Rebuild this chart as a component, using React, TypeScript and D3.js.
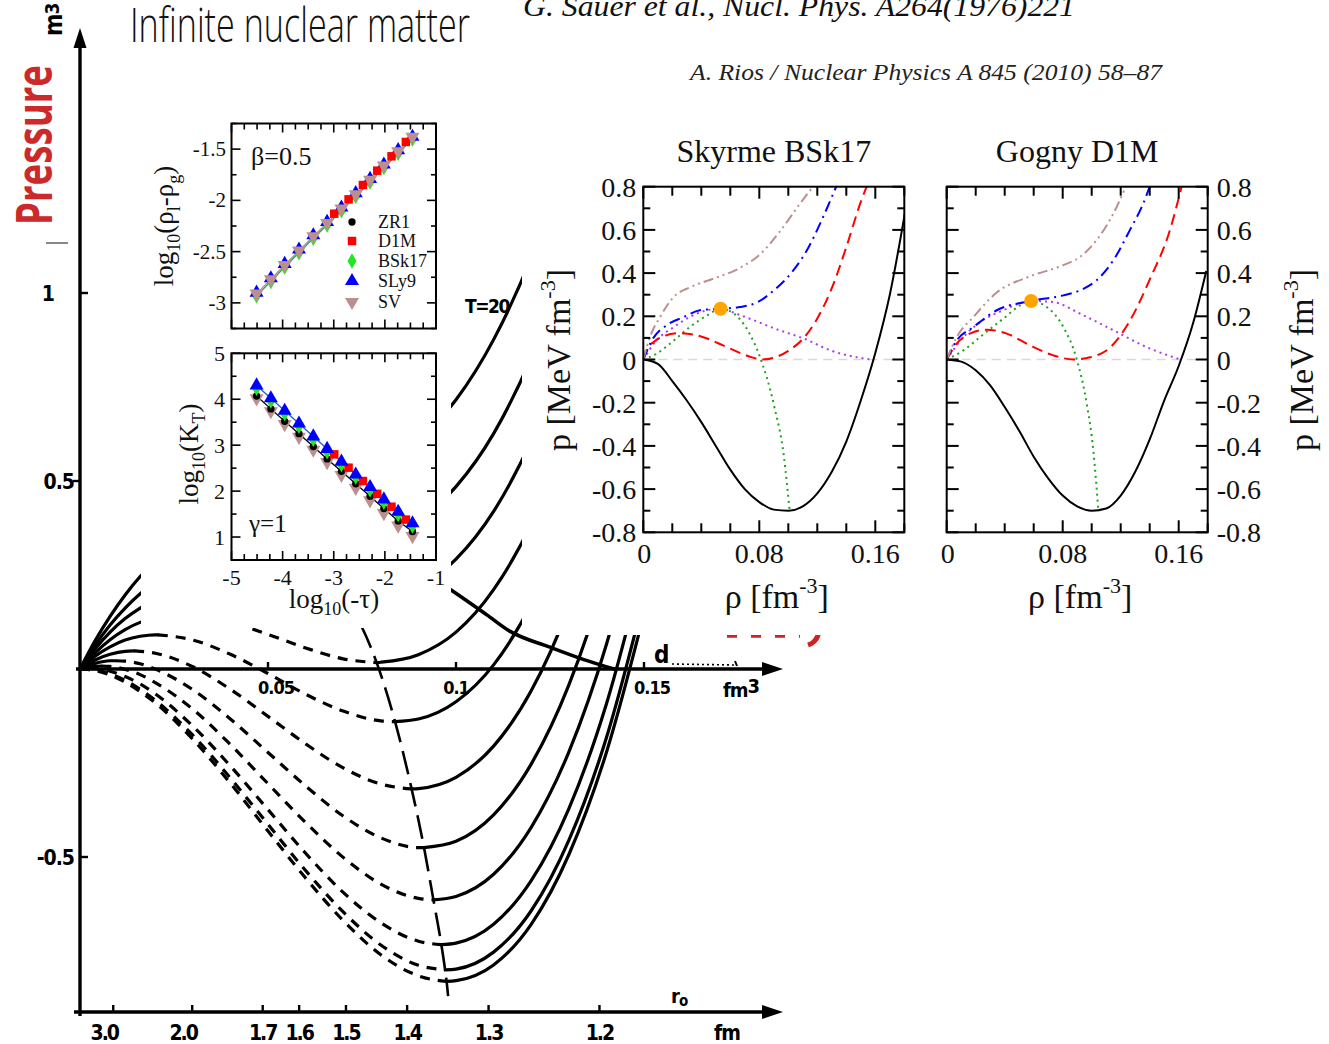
import React from 'react';
import * as d3 from 'd3';

const SERIF = "'Liberation Serif', 'Times New Roman', serif";
const NARROW = "'Liberation Sans Narrow', 'DejaVu Sans Condensed', 'Liberation Sans', sans-serif";
const SANS = "'Open Sans', 'Noto Sans', sans-serif";

/* ---------- Sauer et al. (1976): isotherms P(rho) of hot nuclear matter ---------- */
// density grid [fm^-3] shared by the isotherms
const isoDensity = [0, 0.004, 0.008, 0.012, 0.016, 0.02, 0.03, 0.04, 0.05, 0.06, 0.07, 0.08, 0.09, 0.1, 0.11, 0.12, 0.13, 0.14, 0.15];
// pressure [MeV fm^-3] along each isotherm, hottest first
const isoT20 = [0, 0.075, 0.14, 0.197, 0.246, 0.287, 0.364, 0.411, 0.441, 0.464, 0.492, 0.536, 0.607, 0.716, 0.876, 1.095, 1.387];
const isoT17 = [0, 0.063, 0.117, 0.162, 0.2, 0.231, 0.281, 0.304, 0.31, 0.311, 0.318, 0.341, 0.393, 0.485, 0.626, 0.829, 1.105];
const isoT14 = [0, 0.053, 0.098, 0.134, 0.162, 0.184, 0.212, 0.215, 0.201, 0.183, 0.173, 0.18, 0.216, 0.292, 0.419, 0.608, 0.87];
const isoT12 = [0, 0.043, 0.078, 0.105, 0.124, 0.136, 0.144, 0.125, 0.092, 0.056, 0.027, 0.018, 0.038, 0.098, 0.211, 0.386, 0.635];
const isoT10 = [0, 0.034, 0.059, 0.077, 0.087, 0.091, 0.077, 0.039, -0.012, -0.067, -0.112, -0.138, -0.133, -0.087, 0.011, 0.173, 0.409, 0.73];
const isoT7 = [0, 0.024, 0.039, 0.047, 0.047, 0.042, 0.006, -0.054, -0.126, -0.199, -0.263, -0.306, -0.318, -0.288, -0.205, -0.058, 0.164, 0.472];
const isoT5 = [0, 0.015, 0.022, 0.021, 0.014, 0, -0.055, -0.133, -0.222, -0.311, -0.391, -0.449, -0.475, -0.458, -0.388, -0.253, -0.043, 0.254, 0.647];
const isoT3 = [0, 0.007, 0.007, -0.001, -0.015, -0.036, -0.107, -0.201, -0.305, -0.408, -0.501, -0.572, -0.61, -0.605, -0.546, -0.421, -0.221, 0.065, 0.449];
const isoT1 = [0, 0.001, -0.006, -0.02, -0.04, -0.066, -0.152, -0.258, -0.374, -0.49, -0.594, -0.675, -0.724, -0.729, -0.679, -0.563, -0.372, -0.093, 0.283];
const isoT05 = [0, -0.003, -0.013, -0.03, -0.054, -0.083, -0.176, -0.29, -0.413, -0.536, -0.646, -0.734, -0.788, -0.798, -0.753, -0.643, -0.456, -0.183, 0.189];
const isoT0 = [0, -0.004, -0.016, -0.035, -0.06, -0.09, -0.187, -0.304, -0.431, -0.556, -0.669, -0.76, -0.816, -0.829, -0.787, -0.679, -0.494, -0.222, 0.147];
const isoCurves = [isoT20, isoT17, isoT14, isoT12, isoT10, isoT7, isoT5, isoT3, isoT1, isoT05, isoT0];
// local maximum and minimum of each isotherm (unstable branch between them); null: supercritical
const spinMaxRho = [null, null, 0.0358, 0.0272, 0.0207, 0.0144, 0.0096, 0.0057, 0.0025, 0, 0];
const spinMaxP = [null, null, 0.216, 0.1445, 0.091, 0.048, 0.022, 0.008, 0.0016, 0, 0];
const spinMinRho = [null, null, 0.0718, 0.0789, 0.0838, 0.0882, 0.0915, 0.094, 0.0961, 0.0971, 0.0975];
const spinMinP = [null, null, 0.172, 0.017, -0.14, -0.319, -0.475, -0.614, -0.733, -0.8, -0.831];
// spinodal line through the minima
const spinodalRho = [0.058, 0.0718, 0.0789, 0.0838, 0.0882, 0.0915, 0.094, 0.0961, 0.0971, 0.0975, 0.0979];
const spinodalP = [0.311, 0.172, 0.017, -0.14, -0.319, -0.475, -0.614, -0.733, -0.8, -0.831, -0.87];
// heavy boundary line ending on the density axis
const ridgeRho = [0.088, 0.0987, 0.1082, 0.1144, 0.125, 0.134, 0.142];
const ridgeP = [0.28, 0.21, 0.144, 0.1, 0.058, 0.025, 0];
// axis labels of the old figure
const oldDensityTicks = [0.05, 0.1, 0.15];
const oldDensityLabels = ['0.05', '0.1', '0.15'];
const oldPressureTicks = [1, 0.5, -0.5];
const oldPressureLabels = ['1', '0.5', '-0.5'];
const r0Ticks = [3.0, 2.0, 1.7, 1.6, 1.5, 1.4, 1.3, 1.2];
const r0Labels = ['3.0', '2.0', '1.7', '1.6', '1.5', '1.4', '1.3', '1.2'];

/* ---------- A. Rios (2010), inset: critical scaling ---------- */
const tauX = [-4.51, -4.23, -3.96, -3.68, -3.4, -3.13, -2.85, -2.57, -2.29, -2.02, -1.74, -1.46];
const tauXD1M = [-2.99, -2.71, -2.43, -2.15, -1.87, -1.59];
const betaZR1 = [-2.92, -2.78, -2.64, -2.5, -2.36, -2.23, -2.09, -1.95, -1.81, -1.67, -1.53, -1.39];
const betaBSk17 = [-2.93, -2.79, -2.65, -2.51, -2.37, -2.24, -2.1, -1.96, -1.82, -1.68, -1.54, -1.4];
const betaSLy9 = [-2.9, -2.76, -2.62, -2.48, -2.34, -2.21, -2.07, -1.93, -1.79, -1.65, -1.51, -1.38];
const betaSV = [-2.91, -2.77, -2.63, -2.49, -2.35, -2.22, -2.08, -1.94, -1.8, -1.66, -1.52, -1.38];
const betaD1M = [-2.13, -1.99, -1.85, -1.71, -1.57, -1.43];
const gammaSLy9 = [4.3, 4.02, 3.75, 3.47, 3.19, 2.92, 2.64, 2.36, 2.09, 1.82, 1.55, 1.3];
const gammaBSk17 = [4.24, 3.96, 3.69, 3.41, 3.13, 2.86, 2.58, 2.31, 2.03, 1.76, 1.49, 1.24];
const gammaZR1 = [4.07, 3.79, 3.52, 3.25, 2.97, 2.7, 2.43, 2.16, 1.89, 1.62, 1.35, 1.12];
const gammaSV = [4.02, 3.74, 3.46, 3.18, 2.9, 2.63, 2.35, 2.07, 1.8, 1.52, 1.25, 1.02];
const gammaD1M = [2.8, 2.51, 2.22, 1.94, 1.66, 1.38];
const betaTicks = [-3, -2.5, -2, -1.5];
const gammaTicks = [1, 2, 3, 4, 5];
const tauTicks = [-5, -4, -3, -2, -1];
const legendNames = ['ZR1', 'D1M', 'BSk17', 'SLy9', 'SV'];

/* ---------- A. Rios (2010): p(rho) at the spinodal / coexistence ---------- */
const bskBlackRho = [0, 0.01, 0.02, 0.03, 0.04, 0.05, 0.06, 0.07, 0.08, 0.09, 0.1, 0.11, 0.12, 0.13, 0.14, 0.15, 0.16, 0.17, 0.181];
const bskBlackP = [0, -0.02, -0.1, -0.19, -0.29, -0.4, -0.51, -0.6, -0.66, -0.695, -0.7, -0.68, -0.62, -0.52, -0.38, -0.19, 0.03, 0.3, 0.7];
const bskRedRho = [0, 0.003, 0.008, 0.015, 0.025, 0.035, 0.045, 0.055, 0.065, 0.075, 0.082, 0.09, 0.1, 0.11, 0.12, 0.13, 0.14, 0.15, 0.154];
const bskRedP = [0, 0.05, 0.085, 0.11, 0.122, 0.115, 0.095, 0.065, 0.035, 0.01, 0, 0.008, 0.04, 0.095, 0.19, 0.33, 0.52, 0.73, 0.8];
const bskBlueRho = [0, 0.007, 0.016, 0.028, 0.039, 0.0533, 0.067, 0.079, 0.09, 0.102, 0.114, 0.123, 0.133];
const bskBlueP = [0, 0.1, 0.158, 0.197, 0.228, 0.235, 0.243, 0.266, 0.32, 0.4, 0.52, 0.645, 0.8];
const bskBrownRho = [0, 0.0046, 0.0116, 0.021, 0.0325, 0.0487, 0.067, 0.081, 0.095, 0.109, 0.117];
const bskBrownP = [0, 0.104, 0.197, 0.29, 0.335, 0.375, 0.425, 0.49, 0.6, 0.73, 0.8];
const bskPurpleRho = [0, 0.009, 0.021, 0.032, 0.044, 0.0533, 0.065, 0.0765, 0.09, 0.111, 0.13, 0.1565];
const bskPurpleP = [0, 0.088, 0.15, 0.197, 0.228, 0.235, 0.21, 0.181, 0.145, 0.096, 0.04, 0];
const bskGreenRho = [0, 0.009, 0.021, 0.032, 0.044, 0.0533, 0.0626, 0.072, 0.08, 0.0904, 0.097, 0.1009];
const bskGreenP = [0, 0.026, 0.088, 0.15, 0.204, 0.235, 0.212, 0.135, 0.02, -0.22, -0.45, -0.7];
const bskCritical = [0.0533, 0.235];

const gogBlackRho = [0, 0.01, 0.02, 0.03, 0.04, 0.05, 0.06, 0.07, 0.08, 0.09, 0.1, 0.11, 0.12, 0.13, 0.14, 0.15, 0.16, 0.17, 0.179];
const gogBlackP = [0, -0.01, -0.05, -0.12, -0.22, -0.33, -0.45, -0.55, -0.63, -0.68, -0.7, -0.69, -0.63, -0.52, -0.37, -0.19, -0.03, 0.17, 0.41];
const gogRedRho = [0, 0.0069, 0.016, 0.0276, 0.0414, 0.0575, 0.0736, 0.0874, 0.0989, 0.113, 0.1264, 0.14, 0.154, 0.162];
const gogRedP = [0, 0.073, 0.12, 0.138, 0.12, 0.065, 0.019, 0, 0.01, 0.057, 0.18, 0.37, 0.6, 0.8];
const gogBlueRho = [0, 0.0069, 0.0184, 0.0345, 0.0582, 0.0805, 0.092, 0.1034, 0.115, 0.1264, 0.1356, 0.14];
const gogBlueP = [0, 0.088, 0.15, 0.228, 0.271, 0.297, 0.32, 0.367, 0.46, 0.6, 0.723, 0.8];
const gogBrownRho = [0, 0.0069, 0.0184, 0.0345, 0.0575, 0.0805, 0.092, 0.1034, 0.115, 0.1235];
const gogBrownP = [0, 0.104, 0.197, 0.31, 0.385, 0.437, 0.475, 0.553, 0.676, 0.8];
const gogPurpleRho = [0, 0.0115, 0.023, 0.039, 0.0582, 0.0736, 0.092, 0.115, 0.138, 0.161];
const gogPurpleP = [0, 0.104, 0.173, 0.228, 0.271, 0.266, 0.212, 0.135, 0.057, 0];
const gogGreenRho = [0, 0.0115, 0.023, 0.039, 0.0506, 0.0582, 0.069, 0.0805, 0.0897, 0.0966, 0.1011, 0.1046];
const gogGreenP = [0, 0.042, 0.104, 0.189, 0.25, 0.271, 0.243, 0.15, 0, -0.206, -0.42, -0.7];
const gogCritical = [0.0582, 0.271];

const pTicks = [0.8, 0.6, 0.4, 0.2, 0, -0.2, -0.4, -0.6, -0.8];
const pTickLabels = ['0.8', '0.6', '0.4', '0.2', '0', '-0.2', '-0.4', '-0.6', '-0.8'];
const rhoTicks = [0, 0.08, 0.16];
const rhoTickLabels = ['0', '0.08', '0.16'];

type Pt = [number, number];
const zip = (a: number[], b: number[]): Pt[] => a.map((v, i) => [v, b[i]] as Pt);

type Series = { rho: number[]; p: number[]; color: string; dash?: string; width?: number };

function RiosPanel({ left, title, series, crit, zeroEnd, axisRight, clipId }: {
  left: number; title: string; series: Series[]; crit: number[]; zeroEnd: number; axisRight: boolean; clipId: string;
}) {
  const x = d3.scaleLinear().domain([0, 0.18]).range([left, left + 261]);
  const y = d3.scaleLinear().domain([-0.8, 0.8]).range([532.3, 186.7]);
  const line = d3.line<Pt>().x(d => x(d[0])).y(d => y(d[1])).curve(d3.curveMonotoneX);
  const x0 = x.range()[0], x1 = x.range()[1];
  const y0 = y.range()[1], y1 = y.range()[0];
  const yMinor = d3.range(-8, 9).map(i => i / 10);
  const xMinor = d3.range(0, 10).map(i => i * 0.02);
  const labX = axisRight ? 1313 : 570;
  return (
    <g fontFamily={SERIF} fill="#111">
      <defs>
        <clipPath id={clipId}><rect x={x0} y={y0} width={x1 - x0} height={y1 - y0} /></clipPath>
      </defs>
      <text x={(x0 + x1) / 2} y={162} textAnchor="middle" fontSize={32}>{title}</text>
      <g clipPath={`url(#${clipId})`}>
        <line x1={x(0)} x2={x(zeroEnd)} y1={y(0)} y2={y(0)} stroke="#d9d9d9" strokeWidth={1.6} strokeDasharray="9 6" />
        {series.map((s, i) => (
          <path key={i} d={line(zip(s.rho, s.p)) || ''} fill="none" stroke={s.color}
            strokeWidth={s.width ?? 2} strokeDasharray={s.dash} />
        ))}
        <circle cx={x(crit[0])} cy={y(crit[1])} r={7} fill="#ffa500" />
      </g>
      <rect x={x0} y={y0} width={x1 - x0} height={y1 - y0} fill="none" stroke="#000" strokeWidth={2} />
      {yMinor.map((v, i) => {
        const len = i % 2 === 0 ? 12 : 7;
        return (
          <g key={'yt' + i} stroke="#000" strokeWidth={2}>
            <line x1={x0} x2={x0 + len} y1={y(v)} y2={y(v)} />
            <line x1={x1} x2={x1 - len} y1={y(v)} y2={y(v)} />
          </g>
        );
      })}
      {xMinor.map((v, i) => {
        const len = i % 4 === 0 ? 12 : 9;
        return (
          <g key={'xt' + i} stroke="#000" strokeWidth={2}>
            <line x1={x(v)} x2={x(v)} y1={y1} y2={y1 - len} />
            <line x1={x(v)} x2={x(v)} y1={y0} y2={y0 + len} />
          </g>
        );
      })}
      {pTicks.map((v, i) => (
        <text key={'pl' + i} x={axisRight ? x1 + 9 : x0 - 7} y={y(v) + 10}
          textAnchor={axisRight ? 'start' : 'end'} fontSize={28}>{pTickLabels[i]}</text>
      ))}
      {rhoTicks.map((v, i) => (
        <text key={'rl' + i} x={x(v) + (i === 0 ? 1 : 0)} y={563} textAnchor="middle" fontSize={28}>{rhoTickLabels[i]}</text>
      ))}
      <text x={(x0 + x1) / 2 + 3} y={608} textAnchor="middle" fontSize={34}>
        ρ [fm<tspan fontSize={22} dy={-15}>-3</tspan><tspan dy={15}>]</tspan>
      </text>
      <text transform={`translate(${labX},360) rotate(-90)`} textAnchor="middle" fontSize={34}>
        p [MeV fm<tspan fontSize={22} dy={-15}>-3</tspan><tspan dy={15}>]</tspan>
      </text>
    </g>
  );
}

export default function App() {
  const W = 1329, H = 1044;

  /* old figure */
  const oldX = d3.scaleLinear().domain([0, 0.15]).range([80, 644]);
  const oldY = d3.scaleLinear().domain([-0.5, 1]).range([857, 293]);
  const oldLine = d3.line<Pt>().x(d => oldX(d[0])).y(d => oldY(d[1])).curve(d3.curveMonotoneX);
  const rhoOfR0 = (r: number) => 3 / (4 * Math.PI * r * r * r);

  const isoPaths = isoCurves.map((p, k) => {
    const pts: Pt[] = p.map((v, i) => [isoDensity[i], v] as Pt);
    const mx = spinMaxRho[k], mn = spinMinRho[k];
    if (mx === null || mn === null) return { solid: [oldLine(pts) || ''], dashed: [] as string[] };
    const a: Pt = [mx, spinMaxP[k] as number];
    const b: Pt = [mn, spinMinP[k] as number];
    const leftPart: Pt[] = [...pts.filter(d => d[0] < mx - 1e-4), a];
    const mid: Pt[] = [a, ...pts.filter(d => d[0] > mx + 1e-4 && d[0] < mn - 1e-4), b];
    const rightPart: Pt[] = [b, ...pts.filter(d => d[0] > mn + 1e-4)];
    return {
      solid: [leftPart, rightPart].filter(s => s.length > 1).map(s => oldLine(s) || ''),
      dashed: [oldLine(mid) || ''],
    };
  });

  /* inset */
  const insX = d3.scaleLinear().domain([-5, -1]).range([231.5, 436]);
  const betaY = d3.scaleLinear().domain([-3.25, -1.25]).range([328.5, 123.5]);
  const gammaY = d3.scaleLinear().domain([0.5, 5]).range([560, 353.3]);
  const sym = (t: d3.SymbolType, s: number) => d3.symbol().type(t).size(s)() || '';
  const markers: Record<string, { d: string; fill: string; rot?: number }> = {
    ZR1: { d: sym(d3.symbolCircle, 42), fill: '#000' },
    D1M: { d: sym(d3.symbolSquare, 72), fill: '#ff0000' },
    BSk17: { d: sym(d3.symbolDiamond, 70), fill: '#22e622' },
    SLy9: { d: sym(d3.symbolTriangle, 85), fill: '#0000ff' },
    SV: { d: sym(d3.symbolTriangle, 85), fill: '#bc8f8f', rot: 180 },
  };
  const mark = (name: string, cx: number, cy: number, key: string) => {
    const m = markers[name];
    return <path key={key} d={m.d} fill={m.fill} transform={`translate(${cx},${cy})${m.rot ? ` rotate(${m.rot})` : ''}`} />;
  };
  const insLine = (ys: number[], yS: d3.ScaleLinear<number, number>) =>
    d3.line<Pt>().x(d => insX(d[0])).y(d => yS(d[1]))(zip(tauX, ys)) || '';

  const betaSeries: [string, number[], number[]][] = [
    ['ZR1', tauX, betaZR1], ['BSk17', tauX, betaBSk17], ['SLy9', tauX, betaSLy9], ['D1M', tauXD1M, betaD1M], ['SV', tauX, betaSV],
  ];
  const gammaSeries: [string, number[], number[]][] = [
    ['SV', tauX, gammaSV], ['ZR1', tauX, gammaZR1], ['BSk17', tauX, gammaBSk17], ['D1M', tauXD1M, gammaD1M], ['SLy9', tauX, gammaSLy9],
  ];

  const insetFrame = (yS: d3.ScaleLinear<number, number>, yStep: number, isMajor: (v: number) => boolean) => {
    const [xa, xb] = insX.range();
    const [ya, yb] = yS.range(); // bottom, top
    const d0 = yS.domain();
    const yv = d3.range(Math.round(d0[0] / yStep), Math.round(d0[1] / yStep) + 1).map(i => i * yStep);
    const xv = d3.range(-20, -3).map(i => i / 4);
    return (
      <g stroke="#000" strokeWidth={1.6}>
        <rect x={xa} y={yb} width={xb - xa} height={ya - yb} fill="none" strokeWidth={2} />
        {yv.map((v, i) => {
          const len = isMajor(v) ? 9 : 5;
          return <g key={'y' + i}><line x1={xa} x2={xa + len} y1={yS(v)} y2={yS(v)} /><line x1={xb} x2={xb - len} y1={yS(v)} y2={yS(v)} /></g>;
        })}
        {xv.map((v, i) => {
          const len = Number.isInteger(v) ? 9 : 6;
          return <g key={'x' + i}><line x1={insX(v)} x2={insX(v)} y1={ya} y2={ya - len} /><line x1={insX(v)} x2={insX(v)} y1={yb} y2={yb + len} /></g>;
        })}
      </g>
    );
  };

  const bskSeries: Series[] = [
    { rho: bskBlackRho, p: bskBlackP, color: '#000', width: 2 },
    { rho: bskPurpleRho, p: bskPurpleP, color: '#a63cf0', dash: '2 4' },
    { rho: bskGreenRho, p: bskGreenP, color: '#1fa21f', dash: '2 4' },
    { rho: bskRedRho, p: bskRedP, color: '#ff0000', dash: '11 6' },
    { rho: bskBlueRho, p: bskBlueP, color: '#0000ff', dash: '11 5 2 5' },
    { rho: bskBrownRho, p: bskBrownP, color: '#bc8f8f', dash: '10 4 2 4 2 4' },
  ];
  const gogSeries: Series[] = [
    { rho: gogBlackRho, p: gogBlackP, color: '#000', width: 2 },
    { rho: gogPurpleRho, p: gogPurpleP, color: '#a63cf0', dash: '2 4' },
    { rho: gogGreenRho, p: gogGreenP, color: '#1fa21f', dash: '2 4' },
    { rho: gogRedRho, p: gogRedP, color: '#ff0000', dash: '11 6' },
    { rho: gogBlueRho, p: gogBlueP, color: '#0000ff', dash: '11 5 2 5' },
    { rho: gogBrownRho, p: gogBrownP, color: '#bc8f8f', dash: '10 4 2 4 2 4' },
  ];

  const oy0 = oldY(0);
  const bottomY = 1012;

  return (
    <svg width={W} height={H} viewBox={`0 0 ${W} ${H}`}
      style={{ position: 'absolute', left: 0, top: 0, background: '#fff' }}>
      <rect x={0} y={0} width={W} height={H} fill="#fff" />

      {/* ===== old figure: isotherms ===== */}
      <g fill="none" stroke="#000" strokeLinecap="round">
        {isoPaths.map((c, k) => (
          <g key={'iso' + k}>
            {c.solid.map((d, j) => <path key={'s' + j} d={d} strokeWidth={3.2} />)}
            {c.dashed.map((d, j) => <path key={'d' + j} d={d} strokeWidth={3.2} strokeDasharray="10 8" strokeLinecap="butt" />)}
          </g>
        ))}
        <path d={oldLine(zip(spinodalRho, spinodalP)) || ''} strokeWidth={2.6} strokeDasharray="24 9" strokeLinecap="butt" />
        <path d={oldLine(zip(ridgeRho, ridgeP)) || ''} strokeWidth={3.6} />
      </g>

      {/* old figure: axes */}
      <g stroke="#000" strokeWidth={3.4} fill="none">
        <line x1={80} x2={80} y1={bottomY + 4} y2={42} />
        <line x1={76} x2={766} y1={oy0} y2={oy0} />
        <line x1={74} x2={766} y1={bottomY} y2={bottomY} />
        <line x1={672} x2={735} y1={oy0 - 5} y2={oy0 - 4} strokeWidth={1.6} strokeDasharray="2 3" />
        <line x1={735} x2={737} y1={oy0 - 8} y2={oy0 - 3} strokeWidth={2} />
        <line x1={46} x2={68} y1={243} y2={243} stroke="#555" strokeWidth={1.4} />
        {oldDensityTicks.map((v, i) => <line key={'odt' + i} x1={oldX(v)} x2={oldX(v)} y1={oy0} y2={oy0 - 7} strokeWidth={2.4} />)}
        {oldPressureTicks.map((v, i) => (
          <line key={'opt' + i} x1={80} x2={v === 0.5 ? 73 : 88} y1={oldY(v)} y2={oldY(v)} strokeWidth={2.4} />
        ))}
        {r0Ticks.map((r, i) => <line key={'r0t' + i} x1={oldX(rhoOfR0(r))} x2={oldX(rhoOfR0(r))} y1={bottomY} y2={bottomY - 7} strokeWidth={2.4} />)}
      </g>
      <g fill="#000">
        <polygon points={`80,28 73.5,48 86.5,48`} />
        <polygon points={`783,${oy0} 762,${oy0 - 7} 762,${oy0 + 7}`} />
        <polygon points={`783,${bottomY} 762,${bottomY - 7} 762,${bottomY + 7}`} />
      </g>
      <g fontFamily={NARROW} fontWeight="bold" fill="#000" letterSpacing={-1}>
        {oldDensityTicks.map((v, i) => (
          <text key={'odl' + i} x={oldX(v) + (i === 1 ? 0 : 8)} y={oy0 + 25} textAnchor="middle" fontSize={18}>{oldDensityLabels[i]}</text>
        ))}
        <text x={741} y={oy0 + 28} textAnchor="middle" fontSize={20}>fm<tspan dy={-4}>3</tspan></text>
        {oldPressureTicks.map((v, i) => (
          <text key={'opl' + i} x={v === 1 ? 54 : 74} y={oldY(v) + 8} textAnchor="end" fontSize={21}>{oldPressureLabels[i]}</text>
        ))}
        {r0Ticks.map((r, i) => (
          <text key={'r0l' + i} x={oldX(rhoOfR0(r)) - (i < 2 ? 9 : 0)} y={bottomY + 28} textAnchor="middle" fontSize={21} letterSpacing={-2}>{r0Labels[i]}</text>
        ))}
        <text x={727} y={bottomY + 28} textAnchor="middle" fontSize={21}>fm</text>
        <text x={671} y={bottomY - 9} fontSize={20}>r<tspan fontSize={15} dy={3}>o</tspan></text>
        <text x={654} y={oy0 - 6} fontSize={24}>d</text>
        <text x={465} y={313} fontSize={19} letterSpacing={-1.5}>T=20</text>
        <text transform="translate(62,36) rotate(-90)" fontSize={24}>m<tspan fontSize={19} dy={-3}>3</tspan></text>
      </g>

      {/* red fragment at the bottom edge of the right figure */}
      <g stroke="#d42020" fill="none">
        <line x1={727} x2={800} y1={636} y2={636} strokeWidth={3.5} strokeDasharray="10 14" />
        <path d="M817,618 Q823,640 808,645" strokeWidth={5} />
      </g>

      {/* ===== backgrounds of the two pasted figures ===== */}
      <rect x={141} y={105} width={310} height={523} fill="#fff" />
      <rect x={522} y={45} width={W - 522} height={590} fill="#fff" />

      {/* ===== inset: critical exponents ===== */}
      <g fontFamily={SERIF} fill="#111">
        {insetFrame(betaY, 0.25, v => Math.abs(v * 2 - Math.round(v * 2)) < 1e-6)}
        {insetFrame(gammaY, 0.5, v => Number.isInteger(v))}
        <g fill="none" strokeWidth={1.3}>
          <path d={insLine(betaSV, betaY)} stroke="#bc8f8f" />
          <path d={insLine(betaBSk17, betaY)} stroke="#2a9a6a" />
          <path d={insLine(gammaZR1, gammaY)} stroke="#000" />
          <path d={insLine(gammaSLy9, gammaY)} stroke="#1f5fd0" />
        </g>
        {betaSeries.map(([n, xs, ys]) => xs.map((xv, i) => mark(n, insX(xv), betaY(ys[i]), 'b' + n + i)))}
        {gammaSeries.map(([n, xs, ys]) => xs.map((xv, i) => mark(n, insX(xv), gammaY(ys[i]), 'g' + n + i)))}
        {betaTicks.map((v, i) => <text key={'bt' + i} x={226} y={betaY(v) + 7} textAnchor="end" fontSize={21}>{String(v)}</text>)}
        {gammaTicks.map((v, i) => <text key={'gt' + i} x={225} y={gammaY(v) + 8} textAnchor="end" fontSize={22}>{String(v)}</text>)}
        {tauTicks.map((v, i) => <text key={'tt' + i} x={insX(v)} y={585} textAnchor="middle" fontSize={22}>{String(v)}</text>)}
        {legendNames.map((n, i) => (
          <g key={'lg' + n}>
            {mark(n, 352, [222, 241, 261, 281, 302][i], 'lm' + n)}
            <text x={378} y={[222, 241, 261, 281, 302][i] + 6} fontSize={18}>{n}</text>
          </g>
        ))}
        <text x={251} y={165} fontSize={26}>β=0.5</text>
        <text x={249} y={532} fontSize={25}>γ=1</text>
        <text transform="translate(173,226) rotate(-90)" textAnchor="middle" fontSize={27}>
          log<tspan fontSize={18} dy={7}>10</tspan><tspan dy={-7}>(ρ</tspan><tspan fontSize={18} dy={7}>l</tspan><tspan dy={-7}>-ρ</tspan><tspan fontSize={18} dy={7}>g</tspan><tspan dy={-7}>)</tspan>
        </text>
        <text transform="translate(198,454) rotate(-90)" textAnchor="middle" fontSize={27}>
          log<tspan fontSize={18} dy={7}>10</tspan><tspan dy={-7}>(K</tspan><tspan fontSize={18} dy={7}>T</tspan><tspan dy={-7}>)</tspan>
        </text>
        <text x={334} y={608} textAnchor="middle" fontSize={27}>
          log<tspan fontSize={18} dy={7}>10</tspan><tspan dy={-7}>(-τ)</tspan>
        </text>
      </g>

      {/* ===== right figure: Skyrme BSk17 and Gogny D1M ===== */}
      <RiosPanel left={643.3} title="Skyrme BSk17" series={bskSeries} crit={bskCritical} zeroEnd={0.175} axisRight={false} clipId="clipBsk" />
      <RiosPanel left={946.7} title="Gogny D1M" series={gogSeries} crit={gogCritical} zeroEnd={0.177} axisRight={true} clipId="clipGog" />

      {/* ===== titles and references ===== */}
      <text x={130} y={42} fontFamily={SANS} fontWeight={300} fontSize={48} textLength={340} lengthAdjust="spacingAndGlyphs" fill="#111">Infinite nuclear matter</text>
      <text transform="translate(52,225) rotate(-90)" fontFamily={SANS} fontWeight={700} fontSize={50} textLength={160} lengthAdjust="spacingAndGlyphs" fill="#cc2a2a">Pressure</text>
      <text x={523} y={16} fontFamily={SERIF} fontStyle="italic" fontSize={30} textLength={552} lengthAdjust="spacingAndGlyphs" fill="#111">G. Sauer et al., Nucl. Phys. A264(1976)221</text>
      <text x={690} y={80} fontFamily={SERIF} fontStyle="italic" fontSize={24} textLength={472} lengthAdjust="spacingAndGlyphs" fill="#222">A. Rios / Nuclear Physics A 845 (2010) 58–87</text>
    </svg>
  );
}
